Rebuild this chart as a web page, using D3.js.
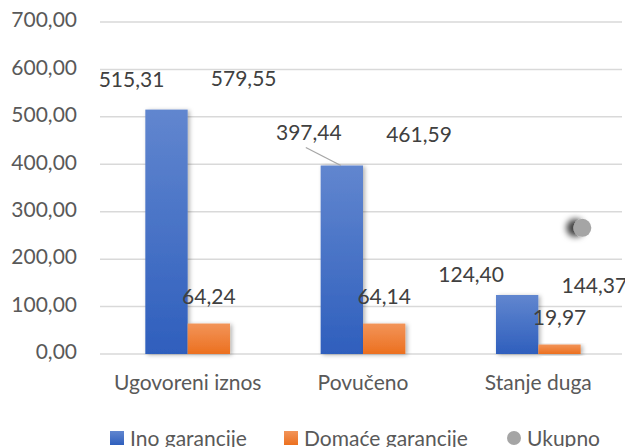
<!DOCTYPE html>
<html>
<head>
<meta charset="utf-8">
<script src="https://cdn.jsdelivr.net/npm/d3@7"></script>
<style>
  body { margin: 0; background: #fff; }
  text { font-family: Lato, "Open Sans", sans-serif; }
</style>
</head>
<body>
<script>
// data
var categories = ["Ugovoreni iznos", "Povučeno", "Stanje duga"];
var inoValues = [515.31, 397.44, 124.40];
var domaceValues = [64.24, 64.14, 19.97];
var ukupnoValues = [579.55, 461.59, 144.37];
var seriesNames = ["Ino garancije", "Domaće garancije", "Ukupno"];
var yTicks = [0, 100, 200, 300, 400, 500, 600, 700];
// the one visible Ukupno marker sits off its value in the source picture
var strayMarker = { category: "Stanje duga", value: 266 };

// manual label nudges (Excel labels were dragged around)
var inoLabelShift = [[-35, -28], [-33, -31], [-46, -18]];

var width = 625, height = 447;
var fs = "21px";
var fmt = function(v){ return d3.format(".2f")(v).replace(".", ","); };

var svg = d3.select("body").append("svg")
   .attr("width", width).attr("height", height);

var defs = svg.append("defs");
var gBlue = defs.append("linearGradient").attr("id", "gBlue")
   .attr("x1", 0).attr("y1", 0).attr("x2", 0).attr("y2", 1);
gBlue.append("stop").attr("offset", "0%").attr("stop-color", "#6186cf");
gBlue.append("stop").attr("offset", "100%").attr("stop-color", "#2f5fbd");
var gOrange = defs.append("linearGradient").attr("id", "gOrange")
   .attr("x1", 0).attr("y1", 0).attr("x2", 0).attr("y2", 1);
gOrange.append("stop").attr("offset", "0%").attr("stop-color", "#f29459");
gOrange.append("stop").attr("offset", "100%").attr("stop-color", "#ec701f");

var shadow = defs.append("filter").attr("id", "shadow")
   .attr("x", "-30%").attr("y", "-10%").attr("width", "160%").attr("height", "130%");
shadow.append("feDropShadow").attr("dx", 2).attr("dy", 1).attr("stdDeviation", 2)
   .attr("flood-color", "#000").attr("flood-opacity", 0.3);
var dotShadow = defs.append("filter").attr("id", "dotShadow")
   .attr("x", "-150%").attr("y", "-100%").attr("width", "300%").attr("height", "300%");
dotShadow.append("feDropShadow").attr("dx", -7).attr("dy", 0).attr("stdDeviation", 3)
   .attr("flood-color", "#000").attr("flood-opacity", 0.75);

var x = d3.scaleBand().domain(categories).range([100, 626]).paddingInner(0).paddingOuter(0);
var inner = d3.scaleBand().domain(["ino", "dom"]).range([0, x.bandwidth()]).paddingInner(0).paddingOuter(1.07);
var y = d3.scaleLinear().domain([0, 700]).range([354, 22]);

// gridlines
svg.append("g").selectAll("line.grid").data(yTicks).enter().append("line")
   .attr("class", "grid")
   .attr("x1", 100).attr("x2", 622)
   .attr("y1", function(d){ return y(d); })
   .attr("y2", function(d){ return y(d); })
   .attr("stroke", "#d9d9d9").attr("stroke-width", 1.5);

// y axis labels
svg.append("g").selectAll("text.tick").data(yTicks).enter().append("text")
   .attr("class", "tick")
   .attr("x", 77)
   .attr("y", function(d){ return y(d); })
   .attr("text-anchor", "end")
   .attr("dominant-baseline", "middle")
   .attr("font-size", fs)
   .attr("fill", "#595959")
   .text(fmt);

// category labels
svg.append("g").selectAll("text.cat").data(categories).enter().append("text")
   .attr("class", "cat")
   .attr("x", function(d){ return x(d) + x.bandwidth()/2; })
   .attr("y", 385)
   .attr("text-anchor", "middle")
   .attr("dominant-baseline", "middle")
   .attr("font-size", fs)
   .attr("fill", "#595959")
   .text(function(d){ return d; });

// bars
var bars = svg.append("g");
bars.selectAll("rect.ino").data(inoValues).enter().append("rect")
   .attr("class", "ino")
   .attr("x", function(d, i){ return x(categories[i]) + inner("ino"); })
   .attr("width", inner.bandwidth())
   .attr("y", function(d){ return y(d); })
   .attr("height", function(d){ return y(0) - y(d); })
   .attr("fill", "url(#gBlue)")
   .attr("filter", "url(#shadow)");
bars.selectAll("rect.dom").data(domaceValues).enter().append("rect")
   .attr("class", "dom")
   .attr("x", function(d, i){ return x(categories[i]) + inner("dom"); })
   .attr("width", inner.bandwidth())
   .attr("y", function(d){ return y(d); })
   .attr("height", function(d){ return y(0) - y(d); })
   .attr("fill", "url(#gOrange)")
   .attr("filter", "url(#shadow)");

// stray Ukupno marker
svg.append("circle")
   .attr("cx", x(strayMarker.category) + x.bandwidth()/2 + 44)
   .attr("cy", y(strayMarker.value))
   .attr("r", 9)
   .attr("fill", "#a5a5a5")
   .attr("filter", "url(#dotShadow)");

// labels
var labels = svg.append("g");
function inoPos(d, i){
   var cx = x(categories[i]) + inner("ino") + inner.bandwidth()/2;
   return [cx + inoLabelShift[i][0], y(d) + inoLabelShift[i][1]];
}
// leader line for Povučeno label
var lp = inoPos(inoValues[1], 1);
labels.append("line")
   .attr("x1", lp[0] - 3).attr("y1", lp[1] + 13)
   .attr("x2", x(categories[1]) + inner("ino") + inner.bandwidth()/2 - 1).attr("y2", y(inoValues[1]))
   .attr("stroke", "#a6a6a6").attr("stroke-width", 1.3);

labels.selectAll("text.ino").data(inoValues).enter().append("text")
   .attr("class", "ino")
   .attr("x", function(d, i){ return inoPos(d, i)[0]; })
   .attr("y", function(d, i){ return inoPos(d, i)[1]; })
   .attr("text-anchor", "middle").attr("dominant-baseline", "middle")
   .attr("font-size", fs).attr("fill", "#404040")
   .text(fmt);
labels.selectAll("text.dom").data(domaceValues).enter().append("text")
   .attr("class", "dom")
   .attr("x", function(d, i){ return x(categories[i]) + inner("dom") + inner.bandwidth()/2; })
   .attr("y", function(d){ return y(d) - 25; })
   .attr("text-anchor", "middle").attr("dominant-baseline", "middle")
   .attr("font-size", fs).attr("fill", "#404040")
   .text(fmt);
labels.selectAll("text.uk").data(ukupnoValues).enter().append("text")
   .attr("class", "uk")
   .attr("x", function(d, i){ return x(categories[i]) + x.bandwidth()/2 + 56; })
   .attr("y", function(d){ return y(d) + 2; })
   .attr("text-anchor", "middle").attr("dominant-baseline", "middle")
   .attr("font-size", fs).attr("fill", "#404040")
   .text(fmt);

// legend (bottom edge of the picture clips it, as in the source)
var legendX = [110, 284, 507];
var legend = svg.append("g");
legend.append("rect").attr("x", legendX[0]).attr("y", 431).attr("width", 14).attr("height", 14).attr("fill", "url(#gBlue)");
legend.append("rect").attr("x", legendX[1]).attr("y", 431).attr("width", 14).attr("height", 14).attr("fill", "url(#gOrange)");
legend.append("circle").attr("cx", legendX[2] + 7).attr("cy", 438).attr("r", 7).attr("fill", "#a5a5a5");
legend.selectAll("text.leg").data(seriesNames).enter().append("text")
   .attr("class", "leg")
   .attr("x", function(d, i){ return legendX[i] + 20; })
   .attr("y", 446)
   .attr("font-size", fs).attr("fill", "#595959")
   .text(function(d){ return d; });
</script>
</body>
</html>
